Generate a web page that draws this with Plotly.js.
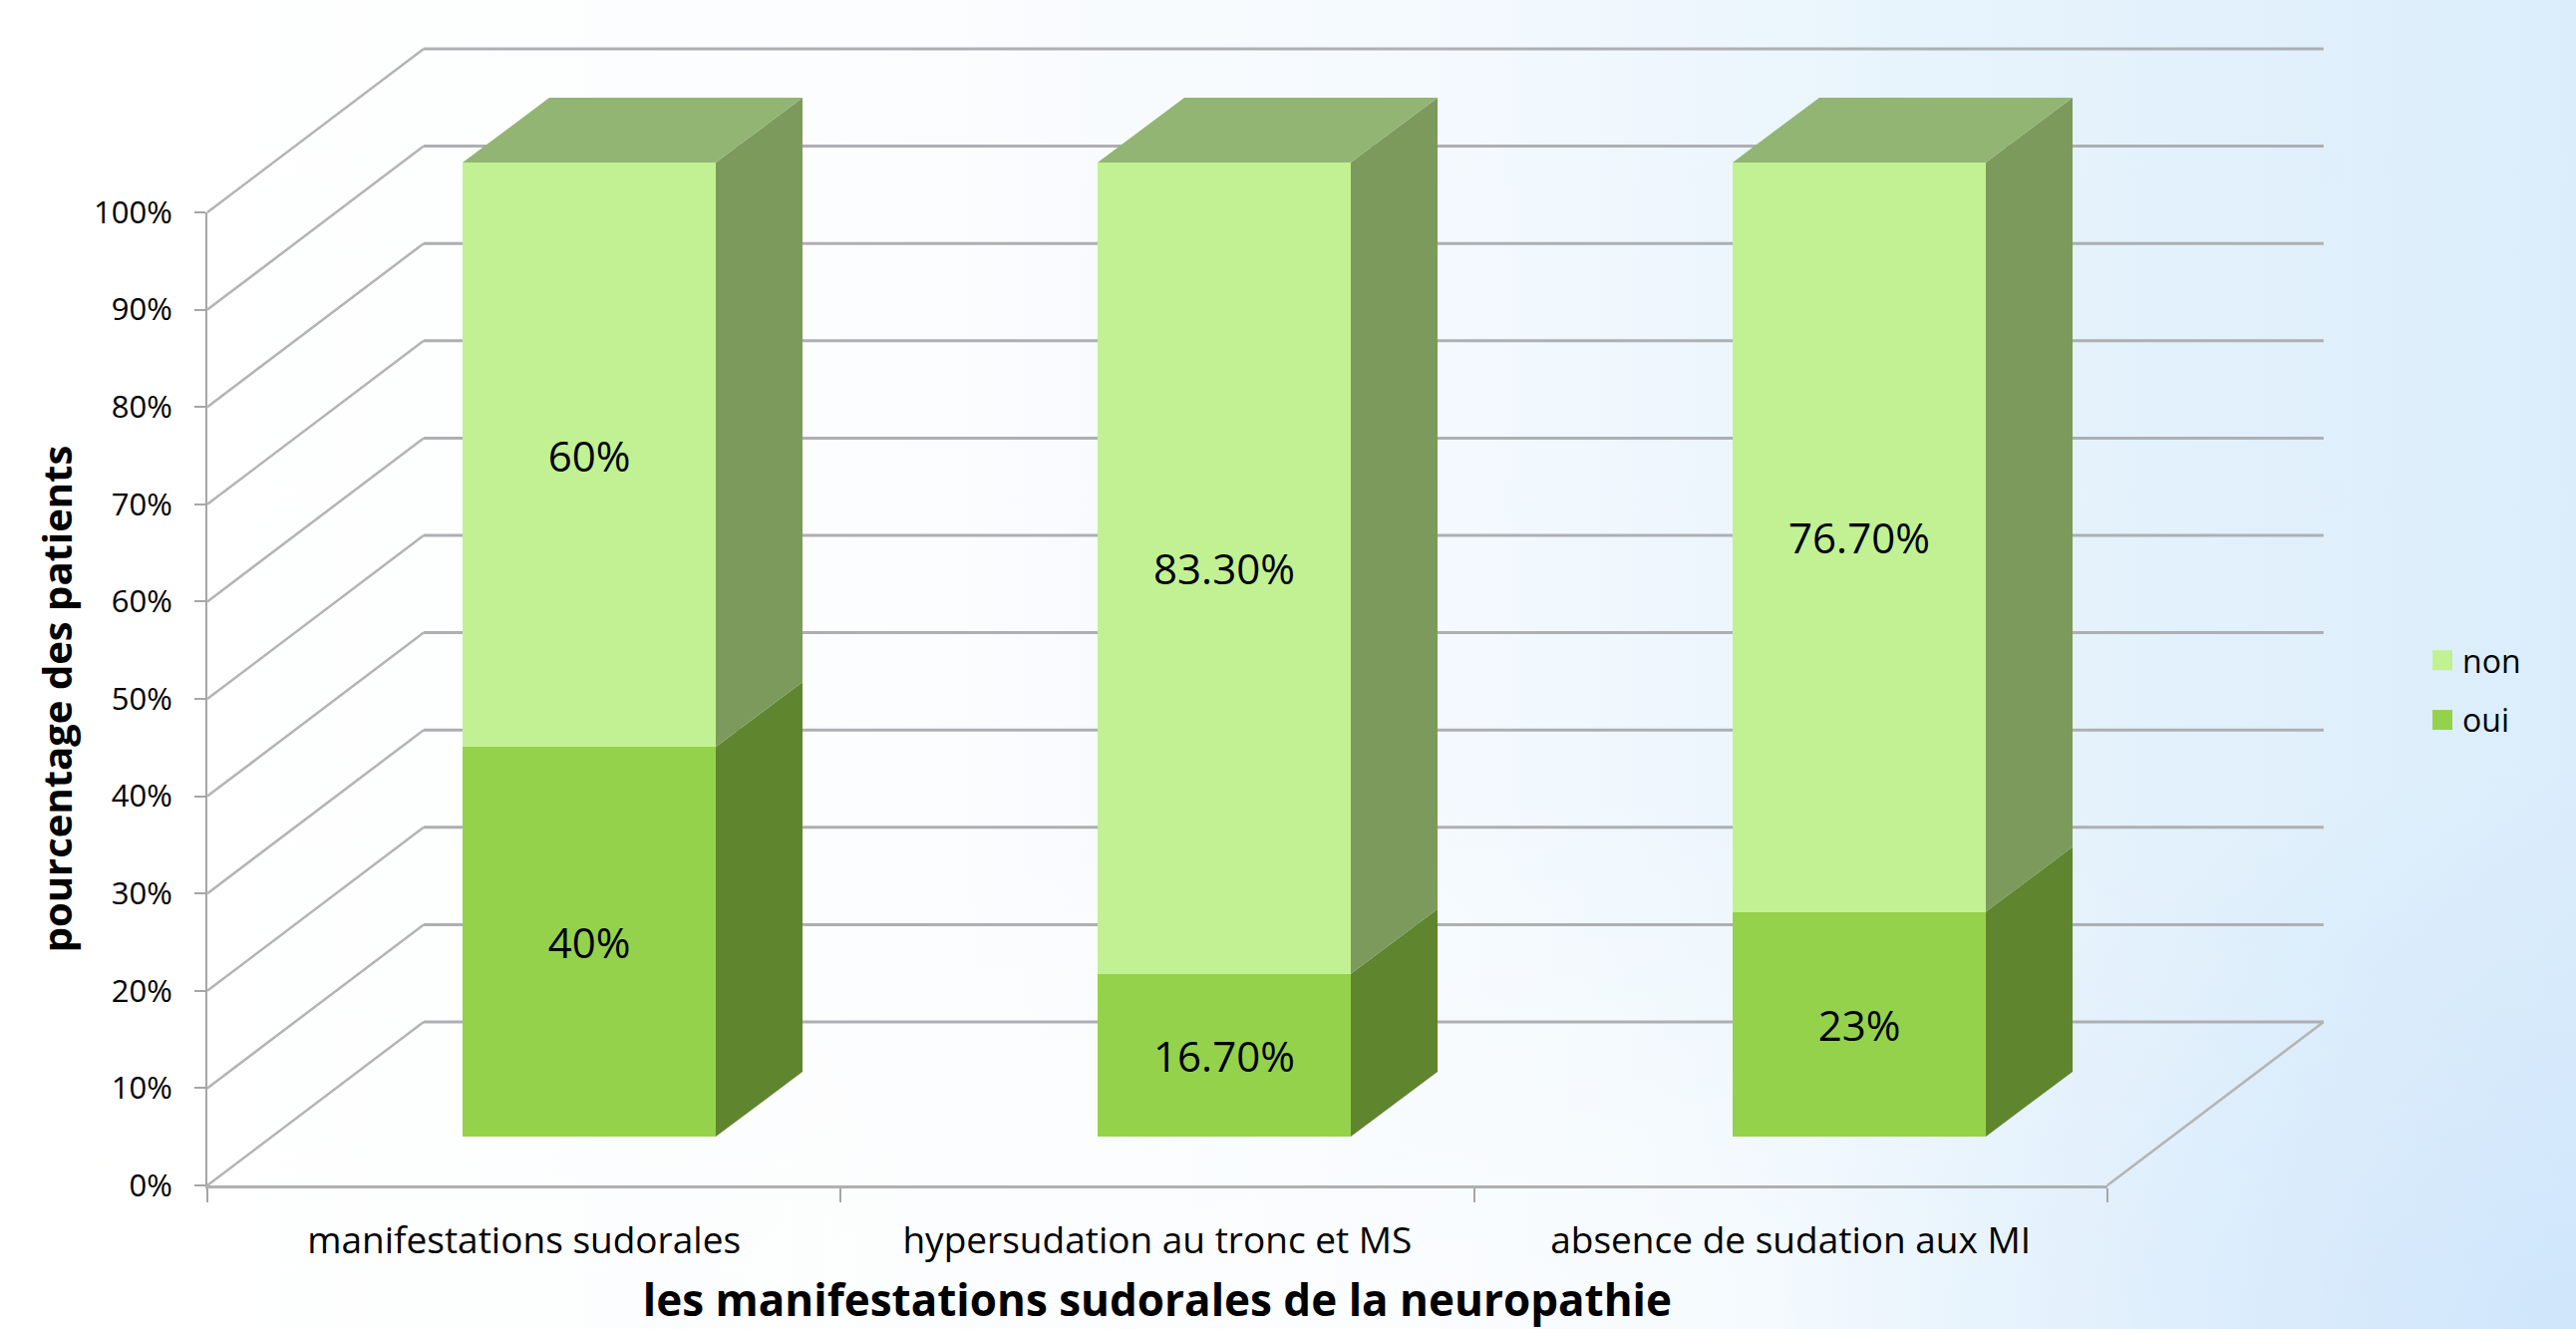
<!DOCTYPE html>
<html><head><meta charset="utf-8">
<script src="https://cdn.plot.ly/plotly-3.0.1.min.js"></script>
<style>html,body{margin:0;padding:0;width:2584px;height:1333px;overflow:hidden;
background:radial-gradient(ellipse 800px 560px at 100% 100%,rgba(203,227,251,.75),rgba(203,227,251,0)),
radial-gradient(ellipse 1300px 560px at 55% 100%,rgba(255,255,255,.6),rgba(255,255,255,0)),
linear-gradient(90deg,#ffffff 0%,#fcfdfe 32%,#f3f9fe 58%,#e8f4fc 74%,#dbedfb 100%);}</style>
</head><body><div id="chart" style="width:2584px;height:1333px"></div>
<script>
const categories = ['manifestations sudorales','hypersudation au tronc et MS','absence de sudation aux MI'];
const oui = [40, 16.7, 23];
const non = [60, 83.3, 76.7];
const ouiLabels = ['40%','16.70%','23%'];
const nonLabels = ['60%','83.30%','76.70%'];
const percentTicks = [0,10,20,30,40,50,60,70,80,90,100];
const positions = [0,1,2];

// layout geometry (pixels of the oblique projection)
const W=2584,H=1333;
const L=208,R=2113.8,T=213,B=1189;
const catPx=(R-L)/3, pctPx=(B-T)/100;
const wallDx=217/catPx, wallDy=164/pctPx;
const barPitch=637, barCentre0=591, barWidthPx=254, barBase=1140, barPct=9.77;
const barW=barWidthPx/barPitch, depthX=87/barPitch, depthY=65/barPct;
const FONT='"Open Sans", sans-serif';

const diagX=[],diagY=[],backX=[],backY=[];
percentTicks.forEach(v=>{
  diagX.push(-0.5,-0.5+wallDx,null); diagY.push(v,v+wallDy,null);
  backX.push(-0.5+wallDx,2.5+wallDx,null); backY.push(v+wallDy,v+wallDy,null);
});
diagX.push(2.5,2.5+wallDx,null); diagY.push(0,wallDy,null);

function sideFace(lo,hi){
  const x=[],y=[];
  positions.forEach((p,i)=>{
    const r=p+barW/2;
    x.push(r,r+depthX,r+depthX,r,r,null);
    y.push(lo[i],lo[i]+depthY,hi[i]+depthY,hi[i],lo[i],null);
  });
  return {x,y};
}
// the stack is a 100% stack: each column is normalised to its own total
const zeros=oui.map(()=>0);
const hundred=oui.map(()=>100);
const ouiShare=oui.map((v,i)=>100*v/(v+non[i]));
const sideOui=sideFace(zeros,ouiShare), sideNon=sideFace(ouiShare,hundred);
const topX=[],topY=[];
positions.forEach((p,i)=>{
  const l=p-barW/2,r=p+barW/2,t=hundred[i];
  topX.push(l,r,r+depthX,l+depthX,l,null);
  topY.push(t,t,t+depthY,t+depthY,t,null);
});
const face=(d,color)=>({type:'scatter',mode:'lines',x:d.x,y:d.y,xaxis:'x3',yaxis:'y3',fill:'toself',fillcolor:color,
  line:{width:0,color:color},hoverinfo:'skip',showlegend:false});
const swatch=(name,color)=>({type:'scatter',mode:'markers',name,x:[null],y:[null],legendgroup:name,
  marker:{symbol:'square',size:16,color,line:{color,width:4}},hoverinfo:'skip'});
const labelFont={family:FONT,size:42,color:'#000'};

const data=[
  {type:'scatter',mode:'markers',x:[null],y:[null],hoverinfo:'skip',showlegend:false},
  {type:'scatter',mode:'lines',x:backX,y:backY,xaxis:'x2',yaxis:'y2',line:{color:'#adafb3',width:3},hoverinfo:'skip',showlegend:false},
  {type:'scatter',mode:'lines',x:diagX,y:diagY,xaxis:'x2',yaxis:'y2',line:{color:'#b4b4b4',width:2.5},hoverinfo:'skip',showlegend:false},
  {type:'bar',name:'oui',x:positions,y:oui,text:ouiLabels,xaxis:'x3',yaxis:'y3',width:barW,marker:{color:'#95d24b'},
   textposition:'inside',insidetextanchor:'middle',textangle:0,textfont:labelFont,showlegend:false,hoverinfo:'skip'},
  {type:'bar',name:'non',x:positions,y:non,text:nonLabels,xaxis:'x3',yaxis:'y3',width:barW,marker:{color:'#c1f193'},
   textposition:'inside',insidetextanchor:'middle',textangle:0,textfont:labelFont,showlegend:false,hoverinfo:'skip'},
  face(sideOui,'#5f852e'),
  face(sideNon,'#7c9a5c'),
  face({x:topX,y:topY},'#92b573'),
  swatch('non','#c1f193'),
  swatch('oui','#95d24b')
];
const layout={
  width:W,height:H,autosize:false,
  margin:{l:0,r:0,t:0,b:0,pad:0},
  paper_bgcolor:'rgba(0,0,0,0)',plot_bgcolor:'rgba(0,0,0,0)',
  barmode:'stack',barnorm:'percent',
  font:{family:FONT,color:'#000'},
  xaxis:{domain:[L/W,R/W],anchor:'y',range:[-0.5,2.5],tickmode:'array',tickvals:positions,ticktext:categories,ticks:'',
    tickfont:{size:37,family:FONT},ticklabelstandoff:21,showgrid:false,zeroline:false,showline:true,linecolor:'#b0b0b0',linewidth:3,
    minor:{tickmode:'array',tickvals:[-0.5,0.5,1.5,2.5],ticks:'outside',ticklen:14,tickwidth:2,tickcolor:'#a6a6a6',showgrid:false},
    title:{text:'les manifestations sudorales de la neuropathie',font:{size:44,family:FONT,weight:700},standoff:26}},
  yaxis:{domain:[(H-B)/H,(H-T)/H],anchor:'x',range:[0,100],tickmode:'array',tickvals:percentTicks,ticktext:percentTicks.map(v=>v+'%'),ticks:'outside',ticklen:11,tickwidth:2,tickcolor:'#a6a6a6',
    tickfont:{size:31,family:FONT},ticklabelstandoff:16,showgrid:false,zeroline:false,showline:true,linecolor:'#a6a6a6',linewidth:2,
    title:{text:'pourcentage des patients',font:{size:40,family:FONT,weight:700},standoff:9}},
  xaxis2:{domain:[0,1],anchor:'y2',visible:false,range:[-0.5-L/catPx,-0.5+(W-L)/catPx]},
  yaxis2:{domain:[0,1],anchor:'x2',visible:false,range:[(B-H)/pctPx,B/pctPx]},
  xaxis3:{domain:[0,1],anchor:'y3',visible:false,range:[-barCentre0/barPitch,(W-barCentre0)/barPitch]},
  yaxis3:{domain:[0,1],anchor:'x3',visible:false,range:[(barBase-H)/barPct,barBase/barPct]},
  legend:{x:2430/W,y:(H-635)/H,xanchor:'left',yanchor:'top',traceorder:'grouped',tracegroupgap:15,
    bgcolor:'rgba(0,0,0,0)',font:{size:32,family:FONT},itemwidth:30},
  showlegend:true
};
Plotly.newPlot('chart',data,layout,{staticPlot:true,displayModeBar:false});
</script></body></html>
